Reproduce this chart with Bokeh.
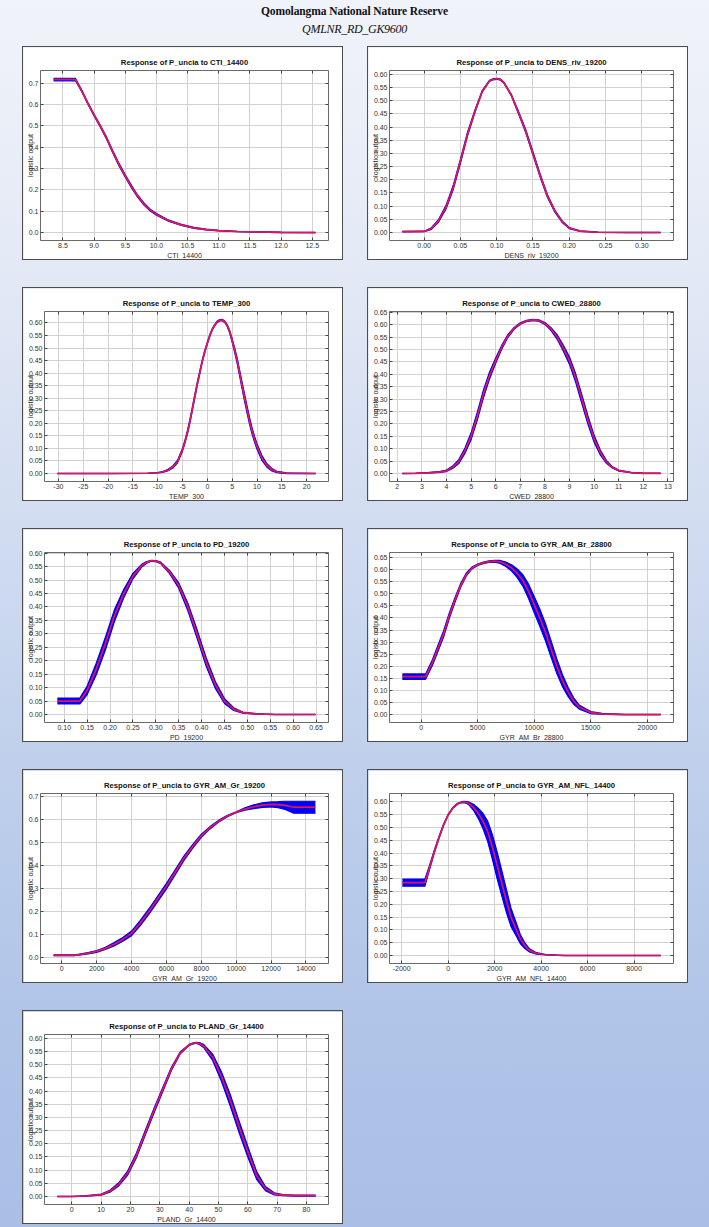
from bokeh.plotting import figure
from bokeh.layouts import column, row
from bokeh.models import Div, Spacer, FixedTicker, NumeralTickFormatter, LinearAxis, ColumnDataSource
from bokeh.embed import file_html
from bokeh.resources import INLINE

# ---------------- data ----------------
species = "P_uncia"

cti_x = [8.35, 8.70, 8.80, 8.90, 9.00, 9.10, 9.20, 9.30, 9.40, 9.50, 9.60, 9.70, 9.80, 9.90, 10.0, 10.2, 10.4, 10.6, 10.8, 11.0, 11.3, 11.6, 12.0, 12.55]
cti_y = [0.717, 0.717, 0.665, 0.605, 0.550, 0.498, 0.442, 0.378, 0.318, 0.265, 0.215, 0.170, 0.134, 0.105, 0.085, 0.055, 0.036, 0.022, 0.014, 0.009, 0.005, 0.003, 0.001, 0.000]
cti_sd = [0.006, 0.006, 0.004, 0.004, 0.004, 0.004, 0.005, 0.005, 0.006, 0.006, 0.006, 0.005, 0.005, 0.004, 0.004, 0.003, 0.003, 0.002, 0.002, 0.001, 0.001, 0.001, 0.001, 0.001]
cti_xticks = [8.5, 9.0, 9.5, 10.0, 10.5, 11.0, 11.5, 12.0, 12.5]
cti_yticks = [0.0, 0.1, 0.2, 0.3, 0.4, 0.5, 0.6, 0.7]

dens_x = [-0.030, 0.000, 0.010, 0.020, 0.030, 0.040, 0.050, 0.060, 0.070, 0.080, 0.090, 0.095, 0.100, 0.105, 0.110, 0.120, 0.130, 0.140, 0.150, 0.160, 0.170, 0.180, 0.190, 0.200, 0.215, 0.240, 0.280, 0.326]
dens_y = [0.003, 0.004, 0.015, 0.045, 0.095, 0.170, 0.270, 0.375, 0.460, 0.535, 0.575, 0.581, 0.583, 0.580, 0.568, 0.522, 0.455, 0.385, 0.300, 0.215, 0.138, 0.082, 0.042, 0.017, 0.005, 0.001, 0.000, 0.000]
dens_sd = [0.001, 0.001, 0.003, 0.005, 0.007, 0.008, 0.008, 0.007, 0.005, 0.003, 0.002, 0.002, 0.002, 0.002, 0.002, 0.003, 0.005, 0.006, 0.006, 0.006, 0.005, 0.004, 0.003, 0.002, 0.001, 0.001, 0.001, 0.001]
dens_xticks = [0.00, 0.05, 0.10, 0.15, 0.20, 0.25, 0.30]
dens_yticks = [0.00, 0.05, 0.10, 0.15, 0.20, 0.25, 0.30, 0.35, 0.40, 0.45, 0.50, 0.55, 0.60]

temp_x = [-30.2, -20, -12, -10, -9, -8, -7, -6, -5, -4.5, -4, -3.5, -3, -2.5, -2, -1.5, -1, -0.5, 0, 0.5, 1, 1.5, 2, 2.5, 3, 3.5, 4, 4.5, 5, 5.5, 6, 6.5, 7, 7.5, 8, 8.5, 9, 9.5, 10, 11, 12, 13, 14, 16, 21.8]
temp_y = [0.000, 0.000, 0.001, 0.003, 0.006, 0.013, 0.025, 0.048, 0.095, 0.128, 0.165, 0.210, 0.260, 0.310, 0.360, 0.405, 0.450, 0.487, 0.520, 0.550, 0.575, 0.592, 0.605, 0.611, 0.612, 0.605, 0.590, 0.565, 0.530, 0.492, 0.450, 0.400, 0.350, 0.302, 0.255, 0.210, 0.170, 0.137, 0.108, 0.062, 0.032, 0.015, 0.006, 0.001, 0.000]
temp_sd = [0.001, 0.001, 0.001, 0.001, 0.002, 0.003, 0.004, 0.005, 0.006, 0.006, 0.007, 0.007, 0.007, 0.007, 0.006, 0.006, 0.005, 0.005, 0.004, 0.004, 0.003, 0.003, 0.003, 0.003, 0.003, 0.003, 0.004, 0.005, 0.007, 0.009, 0.011, 0.012, 0.013, 0.014, 0.014, 0.014, 0.013, 0.012, 0.011, 0.010, 0.007, 0.005, 0.003, 0.002, 0.001]
temp_xticks = [-30, -25, -20, -15, -10, -5, 0, 5, 10, 15, 20]
temp_yticks = [0.00, 0.05, 0.10, 0.15, 0.20, 0.25, 0.30, 0.35, 0.40, 0.45, 0.50, 0.55, 0.60]

cwed_x = [2.21, 2.75, 3.25, 3.75, 4.0, 4.25, 4.5, 4.75, 5.0, 5.25, 5.5, 5.75, 6.0, 6.25, 6.5, 6.75, 7.0, 7.25, 7.5, 7.75, 8.0, 8.25, 8.5, 8.75, 9.0, 9.25, 9.5, 9.75, 10.0, 10.25, 10.5, 10.75, 11.0, 11.5, 12.0, 12.7]
cwed_y = [0.000, 0.001, 0.003, 0.007, 0.011, 0.025, 0.048, 0.092, 0.150, 0.230, 0.320, 0.395, 0.455, 0.510, 0.555, 0.585, 0.605, 0.615, 0.619, 0.617, 0.605, 0.582, 0.550, 0.505, 0.455, 0.385, 0.300, 0.215, 0.140, 0.085, 0.047, 0.024, 0.012, 0.004, 0.001, 0.001]
cwed_sd = [0.001, 0.001, 0.001, 0.002, 0.003, 0.005, 0.008, 0.011, 0.014, 0.016, 0.016, 0.014, 0.011, 0.008, 0.006, 0.004, 0.003, 0.003, 0.003, 0.003, 0.004, 0.006, 0.009, 0.012, 0.015, 0.017, 0.018, 0.017, 0.014, 0.010, 0.006, 0.003, 0.002, 0.001, 0.001, 0.001]
cwed_xticks = [2, 3, 4, 5, 6, 7, 8, 9, 10, 11, 12, 13]
cwed_yticks = [0.00, 0.05, 0.10, 0.15, 0.20, 0.25, 0.30, 0.35, 0.40, 0.45, 0.50, 0.55, 0.60, 0.65]

pd_x = [0.085, 0.134, 0.15, 0.17, 0.19, 0.21, 0.23, 0.25, 0.27, 0.28, 0.29, 0.30, 0.31, 0.33, 0.35, 0.37, 0.39, 0.41, 0.43, 0.45, 0.47, 0.49, 0.52, 0.56, 0.649]
pd_y = [0.050, 0.050, 0.090, 0.170, 0.265, 0.370, 0.450, 0.515, 0.555, 0.566, 0.572, 0.571, 0.565, 0.530, 0.480, 0.400, 0.300, 0.195, 0.110, 0.050, 0.020, 0.007, 0.002, 0.000, 0.000]
pd_sd = [0.011, 0.011, 0.016, 0.022, 0.024, 0.022, 0.016, 0.010, 0.005, 0.003, 0.002, 0.002, 0.003, 0.006, 0.010, 0.014, 0.016, 0.016, 0.013, 0.009, 0.005, 0.002, 0.001, 0.001, 0.001]
pd_xticks = [0.10, 0.15, 0.20, 0.25, 0.30, 0.35, 0.40, 0.45, 0.50, 0.55, 0.60, 0.65]
pd_yticks = [0.00, 0.05, 0.10, 0.15, 0.20, 0.25, 0.30, 0.35, 0.40, 0.45, 0.50, 0.55, 0.60]

gbr_x = [-1650, 400, 1000, 1500, 2000, 2500, 3000, 3500, 4000, 4500, 5000, 5500, 6000, 6500, 7000, 7500, 8000, 8500, 9000, 9500, 10000, 10500, 11000, 11500, 12000, 12500, 13000, 13500, 14000, 15000, 16000, 18000, 21170]
gbr_y = [0.157, 0.157, 0.215, 0.275, 0.335, 0.410, 0.475, 0.535, 0.580, 0.607, 0.620, 0.628, 0.633, 0.635, 0.632, 0.622, 0.607, 0.585, 0.555, 0.510, 0.455, 0.400, 0.340, 0.270, 0.200, 0.140, 0.093, 0.055, 0.030, 0.008, 0.003, 0.000, 0.000]
gbr_sd = [0.011, 0.011, 0.012, 0.013, 0.013, 0.012, 0.010, 0.008, 0.006, 0.004, 0.003, 0.003, 0.003, 0.004, 0.006, 0.009, 0.013, 0.018, 0.024, 0.030, 0.034, 0.036, 0.036, 0.034, 0.030, 0.025, 0.019, 0.013, 0.008, 0.004, 0.002, 0.001, 0.001]
gbr_xticks = [0, 5000, 10000, 15000, 20000]
gbr_yticks = [0.00, 0.05, 0.10, 0.15, 0.20, 0.25, 0.30, 0.35, 0.40, 0.45, 0.50, 0.55, 0.60, 0.65]

ggr_x = [-470, 700, 1000, 1500, 2000, 2500, 3000, 3500, 4000, 4500, 5000, 5500, 6000, 6500, 7000, 7500, 8000, 8500, 9000, 9500, 10000, 10500, 11000, 11500, 12000, 12400, 12800, 13300, 14540]
ggr_y = [0.010, 0.010, 0.013, 0.019, 0.027, 0.040, 0.058, 0.079, 0.105, 0.150, 0.200, 0.255, 0.310, 0.370, 0.430, 0.482, 0.528, 0.563, 0.592, 0.614, 0.630, 0.644, 0.654, 0.661, 0.664, 0.663, 0.660, 0.652, 0.652]
ggr_sd = [0.002, 0.002, 0.002, 0.003, 0.004, 0.005, 0.007, 0.008, 0.010, 0.011, 0.012, 0.012, 0.012, 0.011, 0.010, 0.008, 0.007, 0.005, 0.004, 0.003, 0.002, 0.005, 0.008, 0.010, 0.011, 0.013, 0.018, 0.026, 0.026]
ggr_xticks = [0, 2000, 4000, 6000, 8000, 10000, 12000, 14000]
ggr_yticks = [0.0, 0.1, 0.2, 0.3, 0.4, 0.5, 0.6, 0.7]

gnfl_x = [-1970, -1000, -800, -600, -400, -200, 0, 200, 400, 550, 670, 800, 900, 1100, 1300, 1500, 1700, 1900, 2100, 2300, 2500, 2700, 2900, 3100, 3300, 3500, 3800, 4200, 5000, 9140]
gnfl_y = [0.285, 0.285, 0.345, 0.405, 0.460, 0.510, 0.550, 0.577, 0.593, 0.598, 0.600, 0.598, 0.594, 0.578, 0.555, 0.525, 0.485, 0.425, 0.355, 0.285, 0.215, 0.150, 0.108, 0.065, 0.038, 0.020, 0.008, 0.003, 0.000, 0.000]
gnfl_sd = [0.014, 0.014, 0.008, 0.006, 0.004, 0.003, 0.002, 0.002, 0.002, 0.002, 0.003, 0.004, 0.006, 0.012, 0.020, 0.030, 0.040, 0.048, 0.052, 0.050, 0.045, 0.036, 0.027, 0.018, 0.011, 0.006, 0.003, 0.001, 0.001, 0.001]
gnfl_xticks = [-2000, 0, 2000, 4000, 6000, 8000]
gnfl_yticks = [0.00, 0.05, 0.10, 0.15, 0.20, 0.25, 0.30, 0.35, 0.40, 0.45, 0.50, 0.55, 0.60]

pland_x = [-4.9, 0, 5, 10, 13, 16, 19, 22, 25, 28, 31, 34, 37, 40, 41.2, 42.4, 43.7, 45, 48, 51, 54, 57, 60, 63, 66, 69, 72, 76, 83.1]
pland_y = [0.000, 0.000, 0.002, 0.007, 0.020, 0.046, 0.088, 0.155, 0.240, 0.325, 0.405, 0.485, 0.545, 0.575, 0.580, 0.583, 0.579, 0.570, 0.528, 0.455, 0.365, 0.265, 0.170, 0.080, 0.030, 0.010, 0.005, 0.003, 0.003]
pland_sd = [0.001, 0.001, 0.001, 0.002, 0.004, 0.006, 0.008, 0.009, 0.009, 0.009, 0.008, 0.006, 0.004, 0.002, 0.002, 0.002, 0.004, 0.006, 0.012, 0.018, 0.022, 0.022, 0.020, 0.015, 0.008, 0.004, 0.002, 0.002, 0.002]
pland_xticks = [0, 10, 20, 30, 40, 50, 60, 70, 80]
pland_yticks = [0.00, 0.05, 0.10, 0.15, 0.20, 0.25, 0.30, 0.35, 0.40, 0.45, 0.50, 0.55, 0.60]

panels = [
    ("CTI_14400", cti_x, cti_y, cti_sd, cti_xticks, "0.0", cti_yticks, "0.0"),
    ("DENS_riv_19200", dens_x, dens_y, dens_sd, dens_xticks, "0.00", dens_yticks, "0.00"),
    ("TEMP_300", temp_x, temp_y, temp_sd, temp_xticks, "0", temp_yticks, "0.00"),
    ("CWED_28800", cwed_x, cwed_y, cwed_sd, cwed_xticks, "0", cwed_yticks, "0.00"),
    ("PD_19200", pd_x, pd_y, pd_sd, pd_xticks, "0.00", pd_yticks, "0.00"),
    ("GYR_AM_Br_28800", gbr_x, gbr_y, gbr_sd, gbr_xticks, "0", gbr_yticks, "0.00"),
    ("GYR_AM_Gr_19200", ggr_x, ggr_y, ggr_sd, ggr_xticks, "0", ggr_yticks, "0.0"),
    ("GYR_AM_NFL_14400", gnfl_x, gnfl_y, gnfl_sd, gnfl_xticks, "0", gnfl_yticks, "0.00"),
    ("PLAND_Gr_14400", pland_x, pland_y, pland_sd, pland_xticks, "0", pland_yticks, "0.00"),
]

# ---------------- styling ----------------
PW, PH = 321, 214          # panel box (border drawn inside)
FONT = "Liberation Sans"
RED = "#e5154f"
BLUE = "#0000ff"


def make_panel(name, xs, ys, sds, xt, xf, yt, yf):
    src = ColumnDataSource(dict(
        x=xs, y=ys,
        lo=[a - b for a, b in zip(ys, sds)],
        hi=[a + b for a, b in zip(ys, sds)],
    ))
    p = figure(width=PW, height=PH, output_backend="svg", toolbar_location=None,
               title=f"Response of {species} to {name}",
               x_axis_label=name, y_axis_label="logistic output",
               min_border_left=0, min_border_right=16, min_border_top=23, min_border_bottom=20,
               background_fill_color="white", border_fill_color="white",
               outline_line_color="#6a6a6a", outline_line_width=1,
               styles={"border": "1px solid #4d4d4d"})
    p.varea(x="x", y1="lo", y2="hi", source=src, fill_color=BLUE)
    p.line(x="x", y="hi", source=src, line_color=BLUE, line_width=1.2)
    p.line(x="x", y="lo", source=src, line_color=BLUE, line_width=1.2)
    p.line(x="x", y="y", source=src, line_color=RED, line_width=1.7)

    p.title.text_font = FONT
    p.title.text_font_size = "7.7px"
    p.title.text_font_style = "bold"
    p.title.text_color = "#111111"
    p.title.align = "center"
    p.title.standoff = 7

    for ax, ticks, fmt in ((p.xaxis[0], xt, xf), (p.yaxis[0], yt, yf)):
        ax.ticker = FixedTicker(ticks=ticks)
        ax.formatter = NumeralTickFormatter(format=fmt)
        ax.major_label_text_font = FONT
        ax.major_label_text_font_size = "7px"
        ax.major_label_text_color = "#333333"
        ax.major_label_standoff = 2
        ax.axis_label_text_font = FONT
        ax.axis_label_text_font_size = "7px"
        ax.axis_label_text_font_style = "normal"
        ax.axis_label_text_color = "#2a2a2a"
        ax.axis_line_color = None
        ax.major_tick_in = 3
        ax.major_tick_out = 0
        ax.major_tick_line_color = "#444444"
        ax.minor_tick_line_color = None
    p.xaxis.axis_label_standoff = 1
    p.yaxis.axis_label_standoff = -8
    p.yaxis.axis_label_text_line_height = 1.0
    p.xgrid.ticker = FixedTicker(ticks=xt)
    p.ygrid.ticker = FixedTicker(ticks=yt)
    for g in (p.xgrid[0], p.ygrid[0]):
        g.grid_line_color = "#d2d2d2"
        g.grid_line_width = 1

    # inward tick marks on the top and right edges of the frame (no labels)
    for loc, ticks in (("above", xt), ("right", yt)):
        extra = LinearAxis(ticker=FixedTicker(ticks=ticks), major_label_text_color=None,
                           major_label_text_font_size="1px",
                           major_label_standoff=0, major_tick_in=3, major_tick_out=0,
                           major_tick_line_color="#444444", minor_tick_line_color=None,
                           axis_line_color=None)
        p.add_layout(extra, loc)
    return p


figs = [make_panel(*args) for args in panels]

title_div = Div(
    text=('<div style="width:709px;text-align:center;font-family:\'Liberation Serif\',serif;color:#111;margin-top:4px;">'
          '<div style="font-weight:bold;font-size:11.5px;line-height:14px;letter-spacing:-0.1px;">Qomolangma National Nature Reserve</div>'
          '<div style="font-style:italic;font-size:12px;line-height:22px;letter-spacing:-0.3px;">QMLNR_RD_GK9600</div></div>'),
    width=709, height=46, margin=(0, 0, 0, 0))

rows = []
for i in range(0, 9, 2):
    kids = figs[i:i + 2]
    if len(kids) == 1:
        kids = kids + [Spacer(width=PW, height=PH)]
    rows.append(row(kids, spacing=24))

grid = column(rows, spacing=27)
body = row(Spacer(width=22, height=10), grid)

page = column(title_div, body, Spacer(width=10, height=3),
              styles={"background": "linear-gradient(180deg, #f0f3fa 0%, #e3e9f5 22%, #d2ddf1 42%, #c0d0ec 62%, #b1c5e8 82%, #a9bfe5 100%)"})

open("out.html", "w").write(file_html(page, INLINE))
